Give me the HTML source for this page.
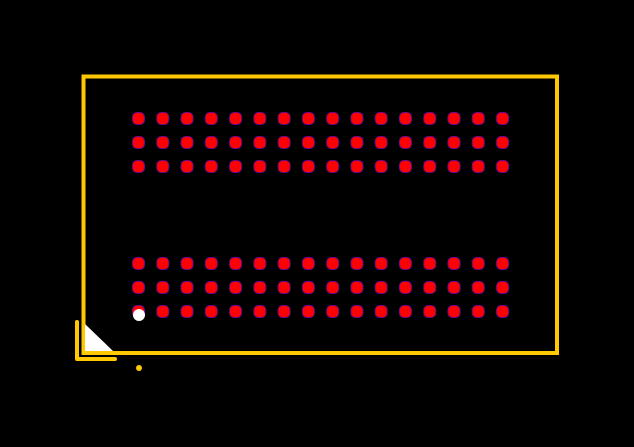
<!DOCTYPE html>
<html><head><style>html,body{margin:0;padding:0;background:#000;width:634px;height:447px;overflow:hidden;}svg{display:block;}</style></head>
<body>
<svg width="634" height="447" viewBox="0 0 634 447" xmlns="http://www.w3.org/2000/svg">
<rect width="634" height="447" fill="#000"/>
<rect x="83.5" y="76.5" width="473.5" height="276.5" fill="none" stroke="#ffc800" stroke-width="4"/>
<polygon points="85,324 85,351 113,351" fill="#fff"/>
<polyline points="77,322 77,359 115,359" fill="none" stroke="#ffc800" stroke-width="4" stroke-linecap="round" stroke-linejoin="round"/>
<g id="pads" fill="#ff0000" stroke="#6a0a8a" stroke-width="1"></g>
<circle id="wd" cx="139" cy="315" r="6" fill="#fff"/>
<circle id="yd" cx="139" cy="368" r="3" fill="#ffc800"/>
</svg>
<script>
var g=document.getElementById('pads'),ys=[118.5,142.5,166.5,263.5,287.5,311.5],s='';
for(var r=0;r<6;r++)for(var i=0;i<16;i++){var x=138.5+i*24.27;s+='<rect x="'+(x-6)+'" y="'+(ys[r]-6)+'" width="12" height="12" rx="4.5" ry="4.5"/>';}
g.innerHTML=s;
var p=g.parentNode;p.appendChild(document.getElementById('wd'));p.appendChild(document.getElementById('yd'));
</script>
</body></html>
